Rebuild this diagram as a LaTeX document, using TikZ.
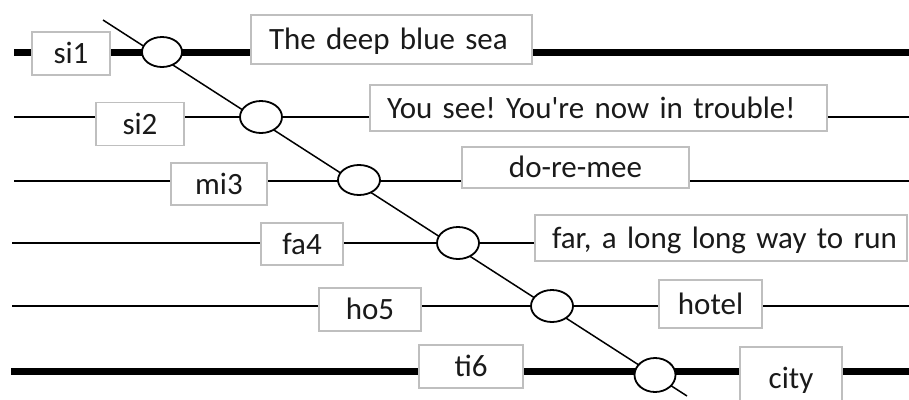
\documentclass[tikz,border=0pt]{standalone}
\usepackage{fontspec}
\setmainfont{Carlito}
\usetikzlibrary{backgrounds,shapes.geometric}
\definecolor{boxgray}{HTML}{BFBFBF}
\definecolor{textc}{HTML}{1A1A1A}
\newcommand{\lblfont}{\fontsize{31}{37}\selectfont\frenchspacing\spaceskip=0.19em\relax}
\begin{document}
\begin{tikzpicture}[x=1pt,y=-1pt,
  lbl/.style={draw=boxgray, line width=1.5pt, fill=white, text=textc,
    font=\lblfont, text height=20pt, text depth=0pt, inner sep=0pt},
  lblleft/.style={lbl, align=left, inner xsep=18pt},
  knot/.style={ellipse, draw, line width=1.8pt, fill=white,
    minimum width=42pt, minimum height=32pt, inner sep=0pt},
  thinl/.style={line width=2pt},
  thickl/.style={line width=7pt},
  diag/.style={line width=1.5pt}]
\useasboundingbox (0,0) rectangle (909,399);

% end points
\coordinate (L1) at (14,52);  \coordinate (R1) at (909,52);
\coordinate (L2) at (14,117); \coordinate (R2) at (909,117);
\coordinate (L3) at (14,181); \coordinate (R3) at (909,181);
\coordinate (L4) at (12,243);
\coordinate (L5) at (12,306); \coordinate (R5) at (909,306);
\coordinate (L6) at (11,371); \coordinate (R6) at (909,371);
\coordinate (D1) at (103,20); \coordinate (D2) at (687,396);

% labels
\node[lbl, minimum width=78pt, minimum height=43pt] (si1) at (71,53.5) {si1};
\node[lblleft, minimum width=281pt, minimum height=49pt, text width=245pt] (deep) at (391.5,39.5) {\mbox{The deep blue sea}};
\node[lbl, minimum width=88pt, minimum height=43pt] (si2) at (140,124) {si2};
\node[lblleft, inner xsep=17pt, minimum width=457pt, minimum height=46pt, text width=423pt] (trouble) at (598.5,108) {\mbox{You see! You\textquotesingle re now in trouble!}};
\node[lbl, minimum width=96pt, minimum height=42pt] (mi3) at (219,184) {mi3};
\node[lbl, minimum width=227pt, minimum height=41pt] (dore) at (575.5,167.5) {do-re-mee};
\node[lbl, minimum width=82pt, minimum height=42pt] (fa4) at (302,244) {fa4};
\node[lblleft, inner xsep=17pt, minimum width=372pt, minimum height=46pt, text width=338pt] (far) at (721,238) {\mbox{far, a long long way to run}};
\node[lbl, minimum width=102pt, minimum height=43pt] (ho5) at (370,309.5) {ho5};
\node[lbl, minimum width=103pt, minimum height=48pt] (hotel) at (710.5,304) {hotel};
\node[lbl, minimum width=104pt, minimum height=43pt] (ti6) at (471,366.5) {ti6};
\node[lbl, minimum width=102pt, minimum height=63pt] (city) at (791,378.5) {city};

% knots
\node[knot, minimum width=40pt, minimum height=30pt] (e1) at (162,52) {};
\node[knot] (e2) at (261,117) {};
\node[knot, minimum height=30pt] (e3) at (359,180) {};
\node[knot] (e4) at (458,243) {};
\node[knot] (e5) at (552,306) {};
\node[knot, minimum width=41pt, minimum height=34pt] (e6) at (655,375) {};

\begin{pgfonlayer}{background}
  \draw[thickl] (L1) -- (R1);
  \draw[thinl] (L2) -- (R2);
  \draw[thinl] (L3) -- (R3);
  \draw[thinl] (L4) -- (far.west |- L4);
  \draw[thinl] (L5) -- (R5);
  \draw[thickl] (L6) -- (R6);
  \draw[diag] (D1) -- (D2);
\end{pgfonlayer}
\end{tikzpicture}
\end{document}
